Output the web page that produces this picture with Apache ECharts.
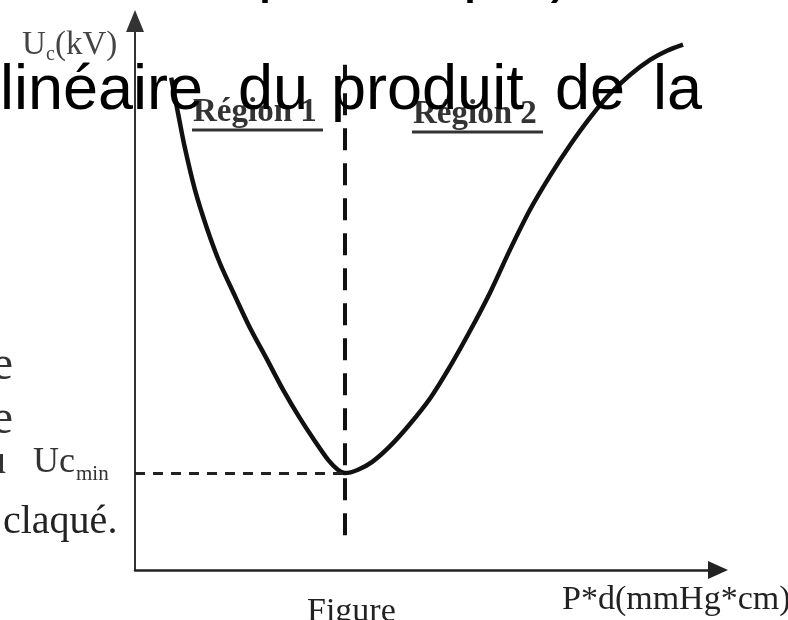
<!DOCTYPE html>
<html>
<head>
<meta charset="utf-8">
<title>Courbe de Paschen</title>
<script src="https://cdn.jsdelivr.net/npm/echarts@6/dist/echarts.min.js"></script>
<style>
  html, body { margin: 0; padding: 0; background: #fff; }
  #chart { width: 788px; height: 620px; }
</style>
</head>
<body>
<div id="chart"></div>
<script>
// Paschen curve: breakdown voltage Uc versus the product P*d
const pdValues = [6.1, 7.3, 8.4, 10.1, 12.1, 14.3, 16.9, 19.4, 22.1, 25.0, 27.8, 30.4, 32.6, 34.2, 35.4,
                  37.6, 40.0, 43.0, 46.4, 49.8, 53.1, 56.5, 59.9, 63.2, 66.6, 70.0, 73.4, 76.7, 80.1, 83.5, 86.9, 89.7, 92.4];
const ucValues = [87.9, 81.3, 75.4, 67.9, 61.1, 54.8, 48.8, 43.2, 37.9, 32.1, 27.1, 22.9, 19.6, 17.9, 17.3,
                  17.9, 19.3, 22.1, 26.1, 30.7, 36.3, 42.7, 49.6, 57.1, 64.3, 70.4, 75.9, 80.7, 85.0, 88.4, 91.1, 92.7, 93.8];

// text labels
const yAxisName = ['U', 'c', '(kV)'];
const xAxisName = 'P*d(mmHg*cm)';
const regionLabels = ['Région 1', 'Région 2'];
const minLabel = ['Uc', 'min'];

// extent of the vertical guide through the minimum
const guideBottom = 6.2;
const guideTop = 90.2;

const minIndex = ucValues.indexOf(Math.min(...ucValues));
const pdMin = pdValues[minIndex];
const ucMin = ucValues[minIndex];

const curve = pdValues.map((x, i) => [x, ucValues[i]]);

const serif = '"Liberation Serif", "DejaVu Serif", serif';
const sans = '"Liberation Sans", Arial, sans-serif';

function txt(text, x, y, size, opts) {
  opts = opts || {};
  return {
    type: 'text', silent: true, z: opts.z || 10,
    style: {
      text: text, x: x, y: y,
      font: (opts.weight || 'normal') + ' ' + size + 'px ' + (opts.family || serif),
      fill: opts.color || '#000',
      textAlign: opts.align || 'left',
      textVerticalAlign: 'middle'
    }
  };
}

const chart = echarts.init(document.getElementById('chart'), null, { renderer: 'canvas' });

chart.setOption({
  animation: false,
  backgroundColor: '#fff',
  grid: { left: 135, right: 70, top: 21, bottom: 50 },
  xAxis: {
    type: 'value', min: 0, max: 98.3,
    axisLine: { show: true, symbol: ['none', 'triangle'], symbolSize: [18, 20], lineStyle: { color: '#222', width: 2.5 } },
    axisTick: { show: false }, axisLabel: { show: false }, splitLine: { show: false }
  },
  yAxis: {
    type: 'value', min: 0, max: 98,
    axisLine: { show: true, symbol: ['none', 'triangle'], symbolSize: [18, 22], lineStyle: { color: '#333', width: 2 } },
    axisTick: { show: false }, axisLabel: { show: false }, splitLine: { show: false }
  },
  series: [{
    type: 'line',
    data: curve,
    smooth: 0.3,
    showSymbol: false,
    lineStyle: { color: '#111', width: 4.5 },
    silent: true,
    markLine: {
      silent: true,
      symbol: 'none',
      label: { show: false },
      data: [
        [{ coord: [0, ucMin], lineStyle: { color: '#222', width: 3, type: [10, 8] } }, { coord: [pdMin, ucMin] }],
        [{ coord: [pdMin, guideBottom], lineStyle: { color: '#111', width: 4, type: [22, 13] } }, { coord: [pdMin, guideTop] }]
      ]
    }
  }],
  graphic: [
    // axis names
    txt(yAxisName[0], 22, 45, 33, { color: '#444' }),
    txt(yAxisName[1], 46, 55, 20, { color: '#444' }),
    txt(yAxisName[2], 55, 45, 33, { color: '#444' }),
    txt(xAxisName, 562, 600, 34, { color: '#222' }),
    txt('Figure', 307, 612, 34, { color: '#222' }),
    // region labels with underline
    txt(regionLabels[0], 193, 112, 33, { weight: 'bold', color: '#333' }),
    { type: 'line', silent: true, shape: { x1: 192, y1: 130, x2: 323, y2: 130 }, style: { stroke: '#333', lineWidth: 3 } },
    txt(regionLabels[1], 413, 114, 33, { weight: 'bold', color: '#333' }),
    { type: 'line', silent: true, shape: { x1: 412, y1: 132, x2: 543, y2: 132 }, style: { stroke: '#333', lineWidth: 3 } },
    // minimum label
    txt(minLabel[0], 33, 463, 36, { color: '#333' }),
    txt(minLabel[1], 76, 474, 21, { color: '#333' }),
    // surrounding document text
    txt('e', 13, 366, 48, { color: '#333', align: 'right' }),
    txt('e', 13, 420, 48, { color: '#333', align: 'right' }),
    txt('u', 6, 462, 40, { color: '#333', align: 'right' }),
    txt('claqué.', 3, 522, 40, { color: '#222' }),
    txt('en fonction de p', 293, -27, 63, { family: sans, align: 'right', z: 20 }),
    txt('et de', 380, -27, 63, { family: sans, align: 'center', z: 20 }),
    txt('p.d),', 463, -27, 63, { family: sans, z: 20 }),
    txt('linéaire', 0, 92, 63, { family: sans, z: 20 }),
    txt('du', 238, 92, 63, { family: sans, z: 20 }),
    txt('produit', 331, 92, 63, { family: sans, z: 20 }),
    txt('de', 555, 92, 63, { family: sans, z: 20 }),
    txt('la', 653, 92, 63, { family: sans, z: 20 })
  ]
});
</script>
</body>
</html>
